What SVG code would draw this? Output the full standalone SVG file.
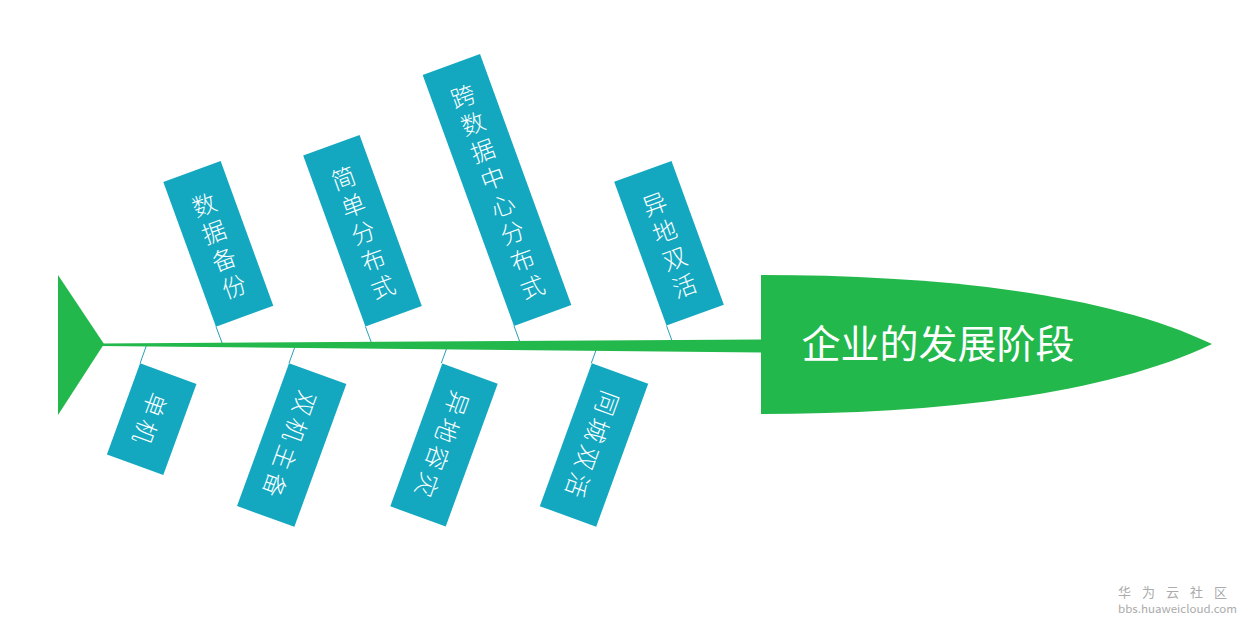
<svg xmlns="http://www.w3.org/2000/svg" width="1241" height="624" viewBox="0 0 1241 624">
<style>
.box{fill:#13a8c0}
.bt{fill:#ffffff;font-family:"Noto Sans CJK SC","Noto Sans",sans-serif;font-size:24px;font-weight:300;text-anchor:middle;dominant-baseline:central}
.fish{fill:#23b84b}
.con{stroke:#2a9fb8;stroke-width:1;fill:none}
.wm{fill:#ababab;font-family:"Noto Sans CJK SC","Liberation Sans",sans-serif}
</style>
<rect width="1241" height="624" fill="#ffffff"/>
<g id="connectors">
<line class="con" x1="216" y1="326.7" x2="222.5" y2="344"/>
<line class="con" x1="365.4" y1="326.6" x2="371.9" y2="344"/>
<line class="con" x1="514" y1="325.9" x2="520.6" y2="344"/>
<line class="con" x1="666.5" y1="325.6" x2="673" y2="343.5"/>
<line class="con" x1="146.4" y1="345.5" x2="140.1" y2="363.4"/>
<line class="con" x1="295.2" y1="346" x2="289" y2="363.2"/>
<line class="con" x1="447.5" y1="346" x2="441.3" y2="363.2"/>
<line class="con" x1="597.5" y1="346" x2="591.3" y2="363.2"/>
</g>
<g id="tail"><polygon class="fish" points="58,275 104,344 58,415"/></g>
<g id="spine"><polygon class="fish" points="100,343.5 762,339.5 762,352.5 100,346"/></g>
<g id="head">
<path class="fish" d="M761,275 C920,275 1100,290 1212,344 C1100,398 920,414 761,414 Z"/>
<text x="938" y="358" fill="#ffffff" font-family="Noto Sans CJK SC, sans-serif" font-size="39" text-anchor="middle">企业的发展阶段</text>
</g>
<g id="u1" transform="translate(218.3,243.9) rotate(-20)">
<rect class="box" x="-30.5" y="-77" width="61" height="154"/>
<text class="bt"><tspan x="0" y="-43.5">数</tspan><tspan x="0" y="-14.5">据</tspan><tspan x="0" y="14.5">备</tspan><tspan x="0" y="43.5">份</tspan></text>
</g>
<g id="u2" transform="translate(362.5,230.8) rotate(-20)">
<rect class="box" x="-30" y="-91" width="60" height="182"/>
<text class="bt"><tspan x="0" y="-58">简</tspan><tspan x="0" y="-29">单</tspan><tspan x="0" y="0">分</tspan><tspan x="0" y="29">布</tspan><tspan x="0" y="58">式</tspan></text>
</g>
<g id="u3" transform="translate(497,190) rotate(-20)">
<rect class="box" x="-30.5" y="-133.5" width="61" height="267"/>
<text class="bt"><tspan x="0" y="-101.5">跨</tspan><tspan x="0" y="-72.5">数</tspan><tspan x="0" y="-43.5">据</tspan><tspan x="0" y="-14.5">中</tspan><tspan x="0" y="14.5">心</tspan><tspan x="0" y="43.5">分</tspan><tspan x="0" y="72.5">布</tspan><tspan x="0" y="101.5">式</tspan></text>
</g>
<g id="u4" transform="translate(669,243.3) rotate(-20)">
<rect class="box" x="-30.5" y="-76.5" width="61" height="153"/>
<text class="bt"><tspan x="0" y="-43.5">异</tspan><tspan x="0" y="-14.5">地</tspan><tspan x="0" y="14.5">双</tspan><tspan x="0" y="43.5">活</tspan></text>
</g>
<g id="l1" transform="translate(151.7,419.2) rotate(20)">
<rect class="box" x="-30" y="-48.5" width="60" height="97"/>
<text class="bt" transform="rotate(90)"><tspan x="-14.5" y="0">单</tspan><tspan x="14.5" y="0">机</tspan></text>
</g>
<g id="l2" transform="translate(291.7,445) rotate(20)">
<rect class="box" x="-30.5" y="-76" width="61" height="152"/>
<text class="bt" transform="rotate(90)"><tspan x="-43.5" y="0">双</tspan><tspan x="-14.5" y="0">机</tspan><tspan x="14.5" y="0">主</tspan><tspan x="43.5" y="0">备</tspan></text>
</g>
<g id="l3" transform="translate(444,445) rotate(20)">
<rect class="box" x="-29.5" y="-76" width="59" height="152"/>
<text class="bt" transform="rotate(90)"><tspan x="-43.5" y="0">异</tspan><tspan x="-14.5" y="0">地</tspan><tspan x="14.5" y="0">容</tspan><tspan x="43.5" y="0">灾</tspan></text>
</g>
<g id="l4" transform="translate(594,445) rotate(20)">
<rect class="box" x="-30" y="-76" width="60" height="152"/>
<text class="bt" transform="rotate(90)"><tspan x="-43.5" y="0">同</tspan><tspan x="-14.5" y="0">城</tspan><tspan x="14.5" y="0">双</tspan><tspan x="43.5" y="0">活</tspan></text>
</g>
<g id="watermark">
<text class="wm" x="1118" y="597" font-size="13" letter-spacing="11">华为云社区</text>
<text class="wm" x="1118" y="613" font-size="11" textLength="119" lengthAdjust="spacingAndGlyphs" font-family="Liberation Sans, sans-serif">bbs.huaweicloud.com</text>
</g>
</svg>
